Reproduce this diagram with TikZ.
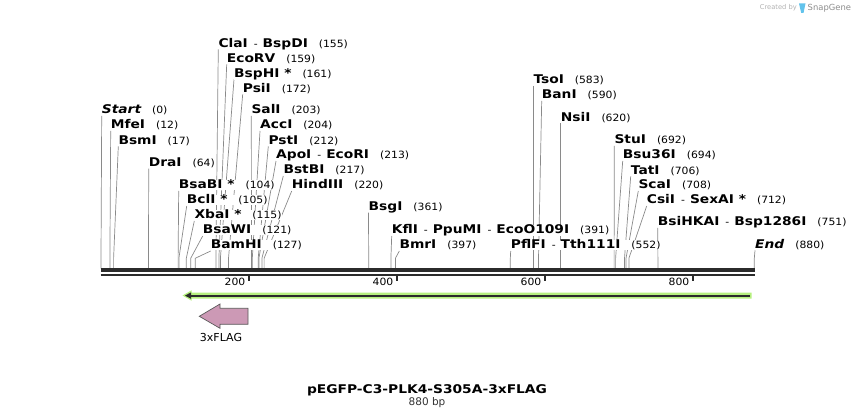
\documentclass[tikz,border=0pt]{standalone}
\usepackage{fontspec}
\setmainfont{DejaVu Sans}
\newfontfamily\namefont{DejaVu Sans}[FakeStretch=1.15]
\newfontfamily\numfont{DejaVu Sans}[FakeStretch=1.08]
\usetikzlibrary{positioning,backgrounds}

\definecolor{cutgray}{HTML}{8A8A8A}
\definecolor{axisdark}{HTML}{2B2B2B}
\definecolor{featgreen}{HTML}{B6F07F}
\definecolor{flagpink}{HTML}{CC99B5}
\definecolor{snapblue}{HTML}{62C3EC}

\newcommand{\sitenum}[1]{\hspace{11pt}{\numfont\mdseries\upshape\fontsize{10}{12}\selectfont(#1)}}
\newcommand{\alsocut}{\hspace{6pt}{\numfont\mdseries\fontsize{10}{12}\selectfont-}\hspace{5pt}}

\tikzset{
  enz/.style={anchor=base west, inner sep=0pt, fill=white, font=\namefont\bfseries\fontsize{12}{14}\selectfont},
  cut/.style={draw=cutgray, line width=0.7pt},
  ticklabel/.style={anchor=base east, inner sep=0pt, font=\numfont\fontsize{10}{12}\selectfont},
}

\begin{document}
\begin{tikzpicture}[x=1pt, y=-1pt]
    \useasboundingbox (0,0) rectangle (856,419);

    % Cut sites on the sequence
    \coordinate (c0) at (101,268.3);
    \coordinate (c12) at (109.9,268.3);
    \coordinate (c17) at (113.6,268.3);
    \coordinate (c64) at (148.5,268.3);
    \coordinate (c104) at (178.1,268.3);
    \coordinate (c105) at (178.9,268.3);
    \coordinate (c115) at (186.3,268.3);
    \coordinate (c121) at (190.7,268.3);
    \coordinate (c127) at (195.2,268.3);
    \coordinate (c155) at (215.9,268.3);
    \coordinate (c159) at (218.9,268.3);
    \coordinate (c161) at (220.4,268.3);
    \coordinate (c172) at (228.5,268.3);
    \coordinate (c203) at (251.5,268.3);
    \coordinate (c204) at (252.3,268.3);
    \coordinate (c212) at (258.2,268.3);
    \coordinate (c213) at (258.9,268.3);
    \coordinate (c217) at (261.9,268.3);
    \coordinate (c220) at (264.1,268.3);
    \coordinate (c361) at (368.7,268.3);
    \coordinate (c391) at (390.9,268.3);
    \coordinate (c397) at (395.4,268.3);
    \coordinate (c552) at (510.3,268.3);
    \coordinate (c583) at (533.3,268.3);
    \coordinate (c590) at (538.5,268.3);
    \coordinate (c620) at (560.7,268.3);
    \coordinate (c692) at (614.1,268.3);
    \coordinate (c694) at (615.6,268.3);
    \coordinate (c706) at (624.5,268.3);
    \coordinate (c708) at (626.0,268.3);
    \coordinate (c712) at (628.9,268.3);
    \coordinate (c751) at (657.9,268.3);
    \coordinate (c880) at (754.3,268.3);

    % Nodes
    \node (start) [enz] at (101.7,114) {\itshape Start\sitenum{0}};
    \node (mfe) [enz] at (110.7,129) {MfeI\sitenum{12}};
    \node (bsm) [enz] at (118.3,144.3) {BsmI\sitenum{17}};
    \node (dra) [enz] at (148.7,166.7) {DraI\sitenum{64}};
    \node (bsabi) [enz] at (178.7,189) {BsaBI *\sitenum{104}};
    \node (bcl) [enz] at (186.7,204) {BclI *\sitenum{105}};
    \node (xba) [enz] at (194.3,219) {XbaI *\sitenum{115}};
    \node (bsawi) [enz] at (202.7,234) {BsaWI\sitenum{121}};
    \node (bam) [enz] at (210.7,249) {BamHI\sitenum{127}};
    \node (cla) [enz] at (218.3,47.3) {ClaI\alsocut BspDI\sitenum{155}};
    \node (ecorv) [enz] at (226.7,62.3) {EcoRV\sitenum{159}};
    \node (bsphi) [enz] at (234,77.3) {BspHI *\sitenum{161}};
    \node (psi) [enz] at (242.7,92.3) {PsiI\sitenum{172}};
    \node (sal) [enz] at (251.3,114) {SalI\sitenum{203}};
    \node (acc) [enz] at (260,129) {AccI\sitenum{204}};
    \node (pst) [enz] at (268.3,144.3) {PstI\sitenum{212}};
    \node (apo) [enz] at (276,159) {ApoI\alsocut EcoRI\sitenum{213}};
    \node (bstbi) [enz] at (283.3,174) {BstBI\sitenum{217}};
    \node (hind) [enz] at (291.7,189) {HindIII\sitenum{220}};
    \node (bsg) [enz] at (368.5,210.7) {BsgI\sitenum{361}};
    \node (kfl) [enz] at (391.7,234) {KflI\alsocut PpuMI\alsocut EcoO109I\sitenum{391}};
    \node (bmr) [enz] at (399.3,249) {BmrI\sitenum{397}};
    \node (pfl) [enz] at (510.7,249) {PflFI\alsocut Tth111I\sitenum{552}};
    \node (tso) [enz] at (533.3,84) {TsoI\sitenum{583}};
    \node (ban) [enz] at (541.7,99) {BanI\sitenum{590}};
    \node (nsi) [enz] at (560.7,121.3) {NsiI\sitenum{620}};
    \node (stu) [enz] at (614.3,144) {StuI\sitenum{692}};
    \node (bsu) [enz] at (622.7,159) {Bsu36I\sitenum{694}};
    \node (tat) [enz] at (630.7,174.3) {TatI\sitenum{706}};
    \node (sca) [enz] at (638.3,189) {ScaI\sitenum{708}};
    \node (csi) [enz] at (646.7,204) {CsiI\alsocut SexAI *\sitenum{712}};
    \node (bsihk) [enz] at (657.7,226) {BsiHKAI\alsocut Bsp1286I\sitenum{751}};
    \node (stop) [enz] at (755,248.3) {\itshape End\sitenum{880}};

    % Edges
    \begin{scope}[on background layer]
    \draw[cut] ([yshift=-2pt]start.base west) -- ([yshift=10pt]c0) -- (c0);
    \draw[cut] ([yshift=-2pt]mfe.base west) -- ([yshift=10pt]c12) -- (c12);
    \draw[cut] ([yshift=-2pt]bsm.base west) -- ([yshift=10pt]c17) -- (c17);
    \draw[cut] ([yshift=-2pt]dra.base west) -- ([yshift=10pt]c64) -- (c64);
    \draw[cut] ([yshift=-2pt]bsabi.base west) -- ([yshift=10pt]c104) -- (c104);
    \draw[cut] ([yshift=-2pt]bcl.base west) -- ([yshift=10pt]c105) -- (c105);
    \draw[cut] ([yshift=-2pt]xba.base west) -- ([yshift=10pt]c115) -- (c115);
    \draw[cut] ([yshift=-2pt]bsawi.base west) -- ([yshift=10pt]c121) -- (c121);
    \draw[cut] ([yshift=-2pt]bam.base west) -- ([yshift=10pt]c127) -- (c127);
    \draw[cut] ([yshift=-2pt]cla.base west) -- ([yshift=10pt]c155) -- (c155);
    \draw[cut] ([yshift=-2pt]ecorv.base west) -- ([yshift=10pt]c159) -- (c159);
    \draw[cut] ([yshift=-2pt]bsphi.base west) -- ([yshift=10pt]c161) -- (c161);
    \draw[cut] ([yshift=-2pt]psi.base west) -- ([yshift=10pt]c172) -- (c172);
    \draw[cut] ([yshift=-2pt]sal.base west) -- ([yshift=10pt]c203) -- (c203);
    \draw[cut] ([yshift=-2pt]acc.base west) -- ([yshift=10pt]c204) -- (c204);
    \draw[cut] ([yshift=-2pt]pst.base west) -- ([yshift=10pt]c212) -- (c212);
    \draw[cut] ([yshift=-2pt]apo.base west) -- ([yshift=10pt]c213) -- (c213);
    \draw[cut] ([yshift=-2pt]bstbi.base west) -- ([yshift=10pt]c217) -- (c217);
    \draw[cut] ([yshift=-2pt]hind.base west) -- ([yshift=10pt]c220) -- (c220);
    \draw[cut] ([yshift=-2pt]bsg.base west) -- ([yshift=10pt]c361) -- (c361);
    \draw[cut] ([yshift=-2pt]kfl.base west) -- ([yshift=10pt]c391) -- (c391);
    \draw[cut] ([yshift=-2pt]bmr.base west) -- ([yshift=10pt]c397) -- (c397);
    \draw[cut] ([yshift=-2pt]pfl.base west) -- ([yshift=10pt]c552) -- (c552);
    \draw[cut] ([yshift=-2pt]tso.base west) -- ([yshift=10pt]c583) -- (c583);
    \draw[cut] ([yshift=-2pt]ban.base west) -- ([yshift=10pt]c590) -- (c590);
    \draw[cut] ([yshift=-2pt]nsi.base west) -- ([yshift=10pt]c620) -- (c620);
    \draw[cut] ([yshift=-2pt]stu.base west) -- ([yshift=10pt]c692) -- (c692);
    \draw[cut] ([yshift=-2pt]bsu.base west) -- ([yshift=10pt]c694) -- (c694);
    \draw[cut] ([yshift=-2pt]tat.base west) -- ([yshift=10pt]c706) -- (c706);
    \draw[cut] ([yshift=-2pt]sca.base west) -- ([yshift=10pt]c708) -- (c708);
    \draw[cut] ([yshift=-2pt]csi.base west) -- ([yshift=10pt]c712) -- (c712);
    \draw[cut] ([yshift=-2pt]bsihk.base west) -- ([yshift=10pt]c751) -- (c751);
    \draw[cut] ([yshift=-2pt]stop.base west) -- ([yshift=10pt]c880) -- (c880);
    \end{scope}

    % Sequence ruler
    \draw[axisdark, line width=3.4pt] (100.5,270) -- (755,270);
    \draw[axisdark, line width=1.7pt] (100.5,274.9) -- (755,274.9);
    \draw[axisdark, line width=1.8pt] (249,275.5) -- (249,281.5);
    \draw[axisdark, line width=1.8pt] (397,275.5) -- (397,281.5);
    \draw[axisdark, line width=1.8pt] (545,275.5) -- (545,281.5);
    \draw[axisdark, line width=1.8pt] (693,275.5) -- (693,281.5);
    \node (t200) [ticklabel] at (245.5,286) {200};
    \node (t400) [ticklabel] at (393.5,286) {400};
    \node (t600) [ticklabel] at (541.5,286) {600};
    \node (t800) [ticklabel] at (689.5,286) {800};

    % Features
    \fill[featgreen] (182.5,295.5) -- (191.5,290.3) -- (191.5,292.6) -- (751.5,292.6)
        -- (751.5,298.6) -- (191.5,298.6) -- (191.5,300.7) -- cycle;
    \draw[axisdark, line width=2pt] (750,295.6) -- (189,295.6);
    \fill[axisdark] (185,295.6) -- (191,292.4) -- (191,298.8) -- cycle;
    \filldraw[fill=flagpink, draw=black!65, line width=0.7pt] (199.3,316.3) -- (220,304)
        -- (220,308.3) -- (248,308.3) -- (248,324.3) -- (220,324.3) -- (220,328.3) -- cycle;
    \node (flag) [anchor=base, inner sep=0pt, font=\fontsize{11}{13}\selectfont] at (221,341.7) {3xFLAG};

    % Title
    \node (title) [anchor=base, inner sep=0pt, font=\namefont\bfseries\fontsize{12}{14}\selectfont] at (427,393.3) {pEGFP-C3-PLK4-S305A-3xFLAG};
    \node (len) [below=1.5pt of title, inner sep=0pt, text=black!80, font=\fontsize{10.5}{12}\selectfont] {880 bp};

    % Watermark
    \node (made) [anchor=base east, inner sep=0pt, text=black!30, font=\fontsize{6.7}{8}\selectfont] at (797,10) {Created by};
    \fill[snapblue] (799,3.5) -- (805.5,3.5) -- (803.5,13) -- (801.2,13) -- cycle;
    \node (brand) [anchor=base west, inner sep=0pt, text=black!45, font=\fontsize{8.4}{10}\selectfont] at (807.5,10.5) {SnapGene};
\end{tikzpicture}
\end{document}
